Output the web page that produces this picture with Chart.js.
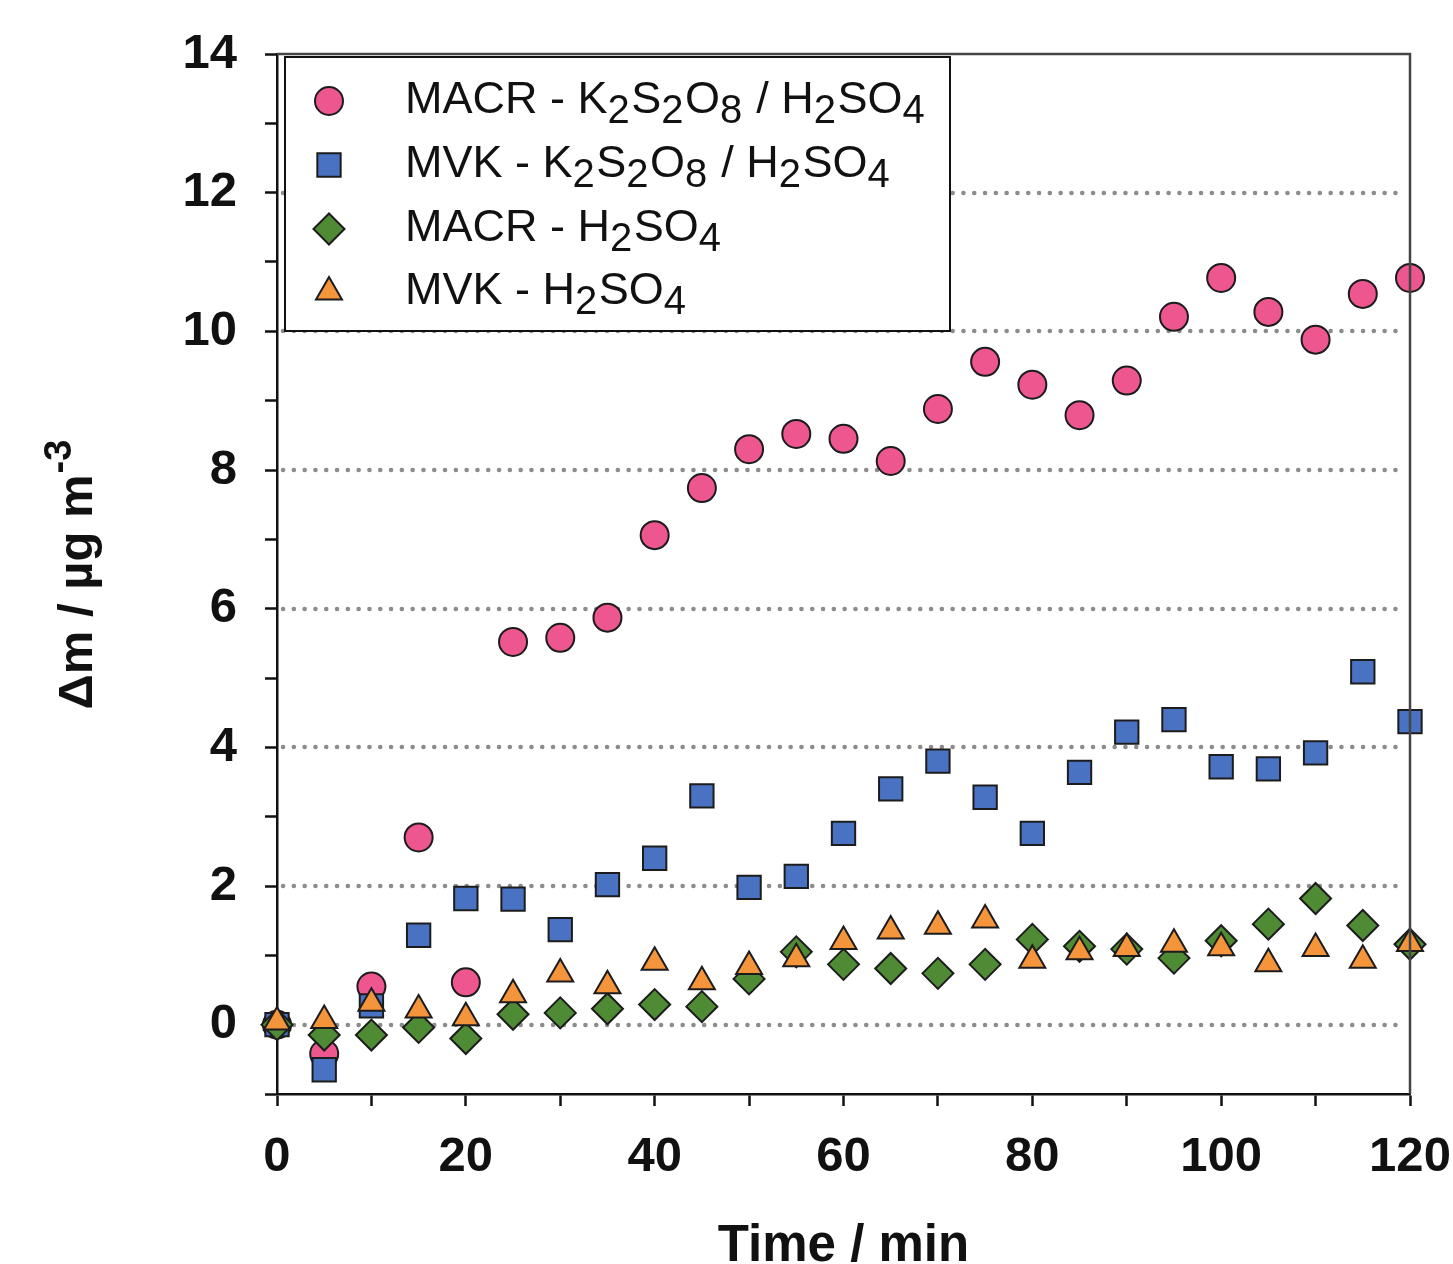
<!DOCTYPE html>
<html>
<head>
<meta charset="utf-8">
<title>Mass growth vs time</title>
<script src="https://cdn.jsdelivr.net/npm/chart.js@4.4.1/dist/chart.umd.min.js"></script>
<style>
  html, body { margin: 0; padding: 0; background: #fff; }
</style>
</head>
<body>
<canvas id="massChart" width="1453" height="1264"></canvas>
<script>
// time axis (min)
var timeMin = [0, 5, 10, 15, 20, 25, 30, 35, 40, 45, 50, 55, 60, 65, 70, 75, 80, 85, 90, 95, 100, 105, 110, 115, 120];

// delta m values (ug m-3)
var macrPersulfate = [0, -0.42, 0.55, 2.70, 0.61, 5.52, 5.58, 5.87, 7.06, 7.74, 8.30, 8.52, 8.45, 8.13, 8.88, 9.56, 9.23, 8.79, 9.29, 10.21, 10.77, 10.28, 9.88, 10.54, 10.77];
var mvkPersulfate  = [0, -0.65, 0.27, 1.29, 1.82, 1.81, 1.37, 2.02, 2.40, 3.30, 1.98, 2.14, 2.76, 3.40, 3.80, 3.28, 2.76, 3.64, 4.22, 4.40, 3.72, 3.69, 3.92, 5.09, 4.37];
var macrAcid       = [0, -0.15, -0.15, -0.04, -0.20, 0.15, 0.17, 0.23, 0.29, 0.26, 0.66, 1.05, 0.87, 0.81, 0.74, 0.87, 1.23, 1.13, 1.09, 0.96, 1.21, 1.45, 1.82, 1.43, 1.16];
var mvkAcid        = [0.04, 0.06, 0.31, 0.21, 0.10, 0.43, 0.73, 0.56, 0.90, 0.62, 0.84, 0.95, 1.20, 1.35, 1.42, 1.51, 0.93, 1.05, 1.10, 1.16, 1.11, 0.88, 1.10, 0.93, 1.17];

// legend text, "_n" = subscript digit
var seriesNames = [
  'MACR - K_2S_2O_8 / H_2SO_4',
  'MVK - K_2S_2O_8 / H_2SO_4',
  'MACR - H_2SO_4',
  'MVK - H_2SO_4'
];

var yGridValues = [0, 2, 4, 6, 8, 10, 12];

function toPoints(values) {
  return values.map(function (v, i) { return { x: timeMin[i], y: v }; });
}

var FONT = '"Liberation Sans", Arial, Helvetica, sans-serif';

var seriesStyles = [
  { color: '#ee5690', style: 'circle',   radius: 14 },
  { color: '#4a72c2', style: 'rect',     radius: 16.5 },
  { color: '#4f8a35', style: 'rectRot',  radius: 15.5 },
  { color: '#f4953c', style: 'triangle', radius: 15 }
];

var seriesData = [macrPersulfate, mvkPersulfate, macrAcid, mvkAcid];

var datasets = seriesData.map(function (vals, i) {
  var s = seriesStyles[i];
  return {
    label: seriesNames[i].replace(/_/g, ''),
    data: toPoints(vals),
    pointStyle: s.style,
    pointRadius: s.radius,
    pointHoverRadius: s.radius,
    backgroundColor: s.color,
    borderColor: '#1c1c1c',
    pointBorderWidth: 2,
    showLine: false,
    clip: false,
    order: 4 - i   // first series at the bottom, triangles on top
  };
});

// text with subscript digits
function drawRich(ctx, str, x, y, size, subSize, shift) {
  var parts = str.split(/_(\d)/);
  parts.forEach(function (p, i) {
    if (!p) return;
    var small = i % 2 === 1;
    ctx.font = (small ? subSize : size) + 'px ' + FONT;
    ctx.fillText(p, x, y + (small ? shift : 0));
    x += ctx.measureText(p).width + (small ? 1.5 : 0);
  });
}

var framePlugin = {
  id: 'frame',
  beforeDatasetsDraw: function (chart) {
    var ctx = chart.ctx, a = chart.chartArea, ys = chart.scales.y;
    ctx.save();
    ctx.strokeStyle = '#8c8c8c';
    ctx.lineWidth = 4.5;
    ctx.lineCap = 'round';
    ctx.setLineDash([0.1, 10.7]);
    yGridValues.forEach(function (v) {
      var py = Math.round(ys.getPixelForValue(v));
      ctx.beginPath();
      ctx.moveTo(a.left + 6, py);
      ctx.lineTo(a.right - 6, py);
      ctx.stroke();
    });
    ctx.restore();
  },
  afterDatasetsDraw: function (chart) {
    var ctx = chart.ctx, a = chart.chartArea;
    ctx.save();
    ctx.strokeStyle = '#444';
    ctx.lineWidth = 2.5;
    ctx.beginPath();
    ctx.moveTo(a.left, a.top);
    ctx.lineTo(a.right, a.top);
    ctx.lineTo(a.right, a.bottom);
    ctx.stroke();
    ctx.restore();
  },
  afterDraw: function (chart) {
    var ctx = chart.ctx;
    ctx.save();
    // legend box
    ctx.fillStyle = '#fff';
    ctx.fillRect(285, 57, 665, 274);
    ctx.strokeStyle = '#111';
    ctx.lineWidth = 2;
    ctx.strokeRect(285, 57, 665, 274);
    var rowY = [101, 165, 229, 292];
    seriesNames.forEach(function (name, i) {
      var s = seriesStyles[i];
      ctx.fillStyle = s.color;
      ctx.strokeStyle = '#1c1c1c';
      ctx.lineWidth = 2;
      Chart.helpers.drawPoint(ctx, { pointStyle: s.style, radius: s.radius, borderWidth: 2, rotation: 0 }, 329, rowY[i]);
      ctx.fillStyle = '#111';
      ctx.textBaseline = 'alphabetic';
      ctx.textAlign = 'left';
      drawRich(ctx, name, 405, rowY[i] + 12, 45, 40, 10);
    });

    // y axis title with superscript
    ctx.translate(92, 575);
    ctx.rotate(-Math.PI / 2);
    ctx.fillStyle = '#111';
    ctx.textBaseline = 'alphabetic';
    ctx.font = 'bold 49px ' + FONT;
    var main = '\u0394m / \u00b5g m';
    var wMain = ctx.measureText(main).width;
    ctx.font = 'bold 38px ' + FONT;
    var wSup = ctx.measureText('-3').width;
    var x0 = -(wMain + wSup) / 2;
    ctx.font = 'bold 49px ' + FONT;
    ctx.fillText(main, x0, 0);
    ctx.font = 'bold 38px ' + FONT;
    ctx.fillText('-3', x0 + wMain + 1, -21);
    ctx.restore();
  }
};

new Chart(document.getElementById('massChart'), {
  type: 'scatter',
  data: { datasets: datasets },
  plugins: [framePlugin],
  options: {
    responsive: false,
    animation: false,
    layout: { padding: { top: 54, right: 43, left: 0, bottom: 0 } },
    plugins: {
      legend: { display: false },
      tooltip: { enabled: false }
    },
    scales: {
      x: {
        type: 'linear',
        min: 0,
        max: 120,
        afterFit: function (scale) {
          scale.height = 170;
          scale.paddingLeft = 0;
          scale.paddingRight = 0;
        },
        ticks: {
          stepSize: 10,
          autoSkip: false,
          maxRotation: 0,
          padding: 22,
          color: '#111',
          font: { family: FONT, size: 49, weight: 'bold' },
          callback: function (v) { return v % 20 === 0 ? String(v) : ''; }
        },
        grid: { drawOnChartArea: false, tickLength: 12, tickWidth: 2.5, tickColor: '#111' },
        border: { color: '#111', width: 2.5 },
        title: {
          display: true,
          text: 'Time / min',
          color: '#111',
          padding: { top: 0, bottom: 0 },
          font: { family: FONT, size: 51, weight: 'bold', lineHeight: 0.66 }
        }
      },
      y: {
        type: 'linear',
        min: -1,
        max: 14,
        afterFit: function (scale) {
          scale.width = 277;
          scale.paddingTop = 0;
          scale.paddingBottom = 0;
        },
        ticks: {
          stepSize: 1,
          autoSkip: false,
          padding: 28,
          color: '#111',
          font: { family: FONT, size: 49, weight: 'bold' },
          callback: function (v) { return v % 2 === 0 ? String(v) : ''; }
        },
        grid: { drawOnChartArea: false, tickLength: 12, tickWidth: 2.5, tickColor: '#111' },
        border: { color: '#111', width: 2.5 }
      }
    }
  }
});
</script>
</body>
</html>
